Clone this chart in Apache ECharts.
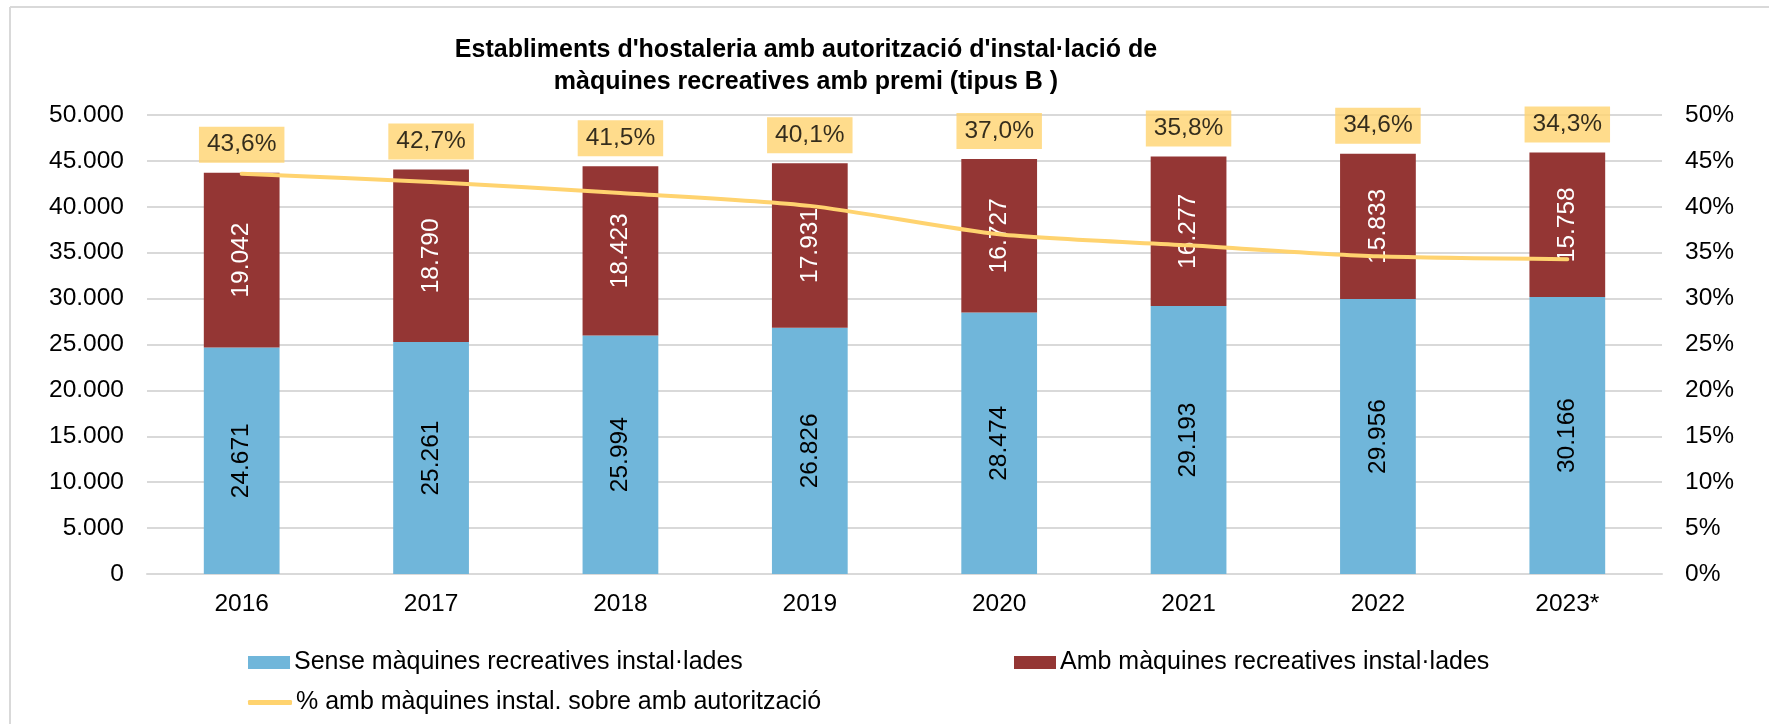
<!DOCTYPE html>
<html>
<head>
<meta charset="utf-8">
<script src="https://cdn.jsdelivr.net/npm/echarts@6/dist/echarts.min.js"></script>
<style>
html,body{margin:0;padding:0;background:#fff;}
#chart{width:1769px;height:724px;}
</style>
</head>
<body>
<div id="chart"></div>
<script>
const categories = ['2016','2017','2018','2019','2020','2021','2022','2023*'];
const senseMaquines = [24671, 25261, 25994, 26826, 28474, 29193, 29956, 30166];
const ambMaquines = [19042, 18790, 18423, 17931, 16727, 16277, 15833, 15758];
const pctAmb = [43.6, 42.7, 41.5, 40.1, 37.0, 35.8, 34.6, 34.3];
const leftTicks = {min: 0, max: 50000, interval: 5000};
const rightTicks = {min: 0, max: 50, interval: 5};

const NAME_SENSE = 'Sense màquines recreatives instal·lades';
const NAME_AMB = 'Amb màquines recreatives instal·lades';
const NAME_PCT = '% amb màquines instal. sobre amb autorització';

const totals = senseMaquines.map((v, i) => v + ambMaquines[i]);
const fmtThousands = v => String(Math.round(v)).replace(/\B(?=(\d{3})+(?!\d))/g, '.');
const fmtPct = v => v.toFixed(1).replace('.', ',') + '%';

const FONT = 'Liberation Sans, Arial, sans-serif';
const FS = 24.5;

const chart = echarts.init(document.getElementById('chart'), null, {renderer: 'canvas'});
chart.setOption({
  backgroundColor: '#ffffff',
  animation: false,
  textStyle: {fontFamily: FONT},
  title: {
    text: "Establiments d'hostaleria amb autorització d'instal·lació de\nmàquines recreatives amb premi (tipus B )",
    left: 801,
    top: 29,
    textAlign: 'center',
    textStyle: {fontFamily: FONT, fontWeight: 'bold', fontSize: 25, lineHeight: 32, color: '#000'}
  },
  graphic: [
    {type: 'line', shape: {x1: 10, y1: 7, x2: 1769, y2: 7}, style: {stroke: '#D9D9D9', lineWidth: 2}},
    {type: 'line', shape: {x1: 10, y1: 7, x2: 10, y2: 724}, style: {stroke: '#D9D9D9', lineWidth: 2}}
  ],
  grid: {left: 147, right: 107, top: 115, bottom: 150, containLabel: false},
  legend: [
    {data: [NAME_SENSE], left: 243, top: 645, itemWidth: 42, itemHeight: 13, icon: 'rect',
     textStyle: {fontFamily: FONT, fontSize: 25, color: '#000', padding: [0,0,0,-1]}},
    {data: [NAME_AMB], left: 1009, top: 645, itemWidth: 42, itemHeight: 13, icon: 'rect',
     textStyle: {fontFamily: FONT, fontSize: 25, color: '#000', padding: [0,0,0,-1]}},
    {data: [{name: NAME_PCT, icon: 'roundRect'}], left: 243, top: 685, itemWidth: 44, itemHeight: 5,
     textStyle: {fontFamily: FONT, fontSize: 25, color: '#000', padding: [0,0,0,-1]}}
  ],
  xAxis: {
    type: 'category',
    data: categories,
    axisLine: {lineStyle: {color: '#D9D9D9', width: 2}},
    axisTick: {show: false},
    axisLabel: {fontFamily: FONT, fontSize: FS, color: '#000', margin: 18}
  },
  yAxis: [
    {
      type: 'value', min: leftTicks.min, max: leftTicks.max, interval: leftTicks.interval,
      axisLine: {show: false}, axisTick: {show: false},
      splitLine: {lineStyle: {color: '#D9D9D9', width: 2}},
      axisLabel: {fontFamily: FONT, fontSize: FS, color: '#000', margin: 23, formatter: v => fmtThousands(v)}
    },
    {
      type: 'value', min: rightTicks.min, max: rightTicks.max, interval: rightTicks.interval,
      axisLine: {show: false}, axisTick: {show: false}, splitLine: {show: false},
      axisLabel: {fontFamily: FONT, fontSize: FS, color: '#000', margin: 23, formatter: v => v + '%'}
    }
  ],
  series: [
    {
      name: NAME_SENSE, type: 'bar', stack: 'total', barWidth: '40%', data: senseMaquines,
      itemStyle: {color: '#70B6DA'},
      label: {show: true, position: 'inside', rotate: 90, color: '#000', fontFamily: FONT, fontSize: FS,
              formatter: p => fmtThousands(p.value)}
    },
    {
      name: NAME_AMB, type: 'bar', stack: 'total', barWidth: '40%', data: ambMaquines,
      itemStyle: {color: '#943634'},
      label: {show: true, position: 'inside', rotate: 90, color: '#fff', fontFamily: FONT, fontSize: FS,
              formatter: p => fmtThousands(p.value)}
    },
    {
      name: NAME_PCT, type: 'line', yAxisIndex: 1, data: pctAmb,
      smooth: 0.25, showSymbol: false, symbol: 'none',
      lineStyle: {color: '#FFD36F', width: 4, cap: 'round'},
      itemStyle: {color: '#FFD36F'}, z: 5
    },
    {
      name: 'pctLabels', type: 'scatter', yAxisIndex: 0, data: totals,
      symbol: 'rect', symbolSize: 2, itemStyle: {color: 'rgba(0,0,0,0)'}, silent: true, z: 10,
      label: {show: true, position: 'top', distance: 9, color: '#000', fontFamily: FONT, fontSize: FS,
              backgroundColor: '#FFD36F', padding: [5, 8, 5, 8], lineHeight: 26,
              formatter: p => fmtPct(pctAmb[p.dataIndex])}
    }
  ]
});
</script>
</body>
</html>
